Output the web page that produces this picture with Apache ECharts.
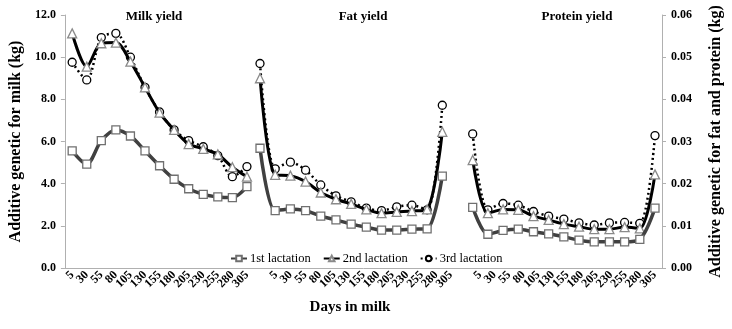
<!DOCTYPE html>
<html>
<head>
<meta charset="utf-8">
<script src="https://cdn.jsdelivr.net/npm/echarts@6/dist/echarts.min.js"></script>
<style>
  html, body { margin: 0; padding: 0; background: #fff; }
  #chart { width: 732px; height: 329px; }
</style>
</head>
<body>
<div id="chart"></div>
<script>
// days in milk (same for each panel)
const days = ['5', '30', '55', '80', '105', '130', '155', '180', '205', '230', '255', '280', '305'];

// milk yield, left axis (kg)
const milk1 = [5.56, 4.93, 6.04, 6.55, 6.26, 5.56, 4.85, 4.21, 3.76, 3.49, 3.37, 3.34, 3.86];
const milk2 = [11.13, 9.55, 10.66, 10.69, 9.79, 8.57, 7.37, 6.55, 5.88, 5.65, 5.39, 4.78, 4.33];
const milk3 = [9.76, 8.92, 10.93, 11.13, 10.0, 8.57, 7.40, 6.55, 6.04, 5.75, 5.33, 4.33, 4.81];

// fat yield, right axis (kg)
const fat1 = [0.0284, 0.0136, 0.0140, 0.0136, 0.0123, 0.0114, 0.0104, 0.0097, 0.0090, 0.0090, 0.0092, 0.0093, 0.0218];
const fat2 = [0.0450, 0.0221, 0.0219, 0.0205, 0.0179, 0.0163, 0.0152, 0.0139, 0.0130, 0.0133, 0.0135, 0.0139, 0.0323];
const fat3 = [0.0485, 0.0235, 0.0251, 0.0232, 0.0197, 0.0171, 0.0157, 0.0142, 0.0136, 0.0145, 0.0149, 0.0138, 0.0386];

// protein yield, right axis (kg)
const prot1 = [0.0144, 0.0080, 0.0089, 0.0092, 0.0086, 0.0081, 0.0074, 0.0066, 0.0062, 0.0062, 0.0062, 0.0068, 0.0142];
const prot2 = [0.0256, 0.0130, 0.0139, 0.0138, 0.0123, 0.0114, 0.0104, 0.0098, 0.0092, 0.0092, 0.0097, 0.0094, 0.0222];
const prot3 = [0.0318, 0.0138, 0.0153, 0.0149, 0.0134, 0.0123, 0.0116, 0.0107, 0.0102, 0.0107, 0.0108, 0.0106, 0.0314];

const panelTitles = ['Milk yield', 'Fat yield', 'Protein yield'];
const lactations = ['1st lactation', '2nd lactation', '3rd lactation'];

// main axis: milk | gap | fat | gap | protein
const mainCats = days.concat([''], days, [''], days);
// second (hidden) axis for fat + protein, points sit on the ticks
const sideCats = days.concat([''], days);
const gap = new Array(days.length + 1).fill('-');

const serif = "'Liberation Serif', 'Times New Roman', serif";
const axisGray = '#b0b0b0';

const styles = [
  { symbol: 'rect', symbolSize: 8, line: { color: '#404040', width: 3.5, type: 'solid' }, border: '#707070' },
  { symbol: 'triangle', symbolSize: 9, line: { color: '#000', width: 3, type: 'solid' }, border: '#8a8a8a' },
  { symbol: 'circle', symbolSize: 8, line: { color: '#000', width: 2.5, type: [2, 3] }, border: '#000' }
];

function makeSeries(k, data, xi, yi) {
  const s = styles[k];
  return {
    name: lactations[k],
    type: 'line',
    xAxisIndex: xi,
    yAxisIndex: yi,
    data: data,
    smooth: 0.3,
    symbol: s.symbol,
    symbolSize: s.symbolSize,
    showAllSymbol: true,
    lineStyle: s.line,
    itemStyle: { color: '#fff', borderColor: s.border, borderWidth: 1.3 },
    z: 2 + (2 - k)
  };
}

const series = [];
[milk1, milk2, milk3].forEach((d, k) => series.push(makeSeries(k, d, 0, 0)));
[fat1, fat2, fat3].forEach((d, k) => series.push(makeSeries(k, d, 1, 2)));
[prot1, prot2, prot3].forEach((d, k) => series.push(makeSeries(k, gap.concat(d), 1, 2)));

const titleStyle = { fontFamily: serif, fontWeight: 'bold', fontSize: 13, color: '#000' };
const titleX = [154, 363, 577];

const chart = echarts.init(document.getElementById('chart'));
chart.setOption({
  animation: false,
  title: panelTitles.map((t, i) => ({
    text: t, left: titleX[i], top: 10, textAlign: 'center', padding: 0, textStyle: titleStyle
  })).concat([{
    text: 'Days in milk', left: 350, top: 300, textAlign: 'center', padding: 0,
    textStyle: { fontFamily: serif, fontWeight: 'bold', fontSize: 15, color: '#000' }
  }]),
  legend: {
    data: lactations,
    left: 230,
    top: 252,
    itemWidth: 16,
    itemHeight: 7,
    itemGap: 12,
    padding: 0,
    textStyle: { fontFamily: serif, fontSize: 12.5, color: '#000', padding: [0, 0, 0, -2] }
  },
  grid: [
    { left: 57, right: 69, top: 15, bottom: 61 },
    { left: 260, right: 77, top: 15, bottom: 61 }
  ],
  xAxis: [
    {
      type: 'category',
      gridIndex: 0,
      data: mainCats,
      boundaryGap: true,
      axisLine: { lineStyle: { color: axisGray } },
      axisTick: { interval: 0, length: 4, lineStyle: { color: axisGray } },
      axisLabel: {
        interval: 0, rotate: 45, margin: 5,
        fontFamily: serif, fontWeight: 'bold', fontSize: 12, color: '#000'
      }
    },
    {
      type: 'category',
      gridIndex: 1,
      data: sideCats,
      boundaryGap: false,
      show: false
    }
  ],
  yAxis: [
    {
      type: 'value',
      gridIndex: 0,
      position: 'left',
      min: 0, max: 12, interval: 2,
      name: 'Additive genetic for milk (kg)',
      nameLocation: 'middle',
      nameRotate: 90,
      nameGap: 34,
      nameTextStyle: { fontFamily: serif, fontWeight: 'bold', fontSize: 16, color: '#000' },
      axisLine: { show: true, lineStyle: { color: axisGray } },
      axisTick: { show: true, length: 4, lineStyle: { color: axisGray } },
      splitLine: { show: false },
      axisLabel: {
        margin: 9,
        formatter: v => v.toFixed(1),
        fontFamily: serif, fontWeight: 'bold', fontSize: 12, color: '#000'
      }
    },
    {
      type: 'value',
      gridIndex: 0,
      position: 'right',
      min: 0, max: 0.06, interval: 0.01,
      name: 'Additive genetic for fat and protein (kg)',
      nameLocation: 'middle',
      nameRotate: 90,
      nameGap: 46,
      nameTextStyle: { fontFamily: serif, fontWeight: 'bold', fontSize: 16, color: '#000' },
      axisLine: { show: true, lineStyle: { color: axisGray } },
      axisTick: { show: true, length: 4, lineStyle: { color: axisGray } },
      splitLine: { show: false },
      axisLabel: {
        margin: 9,
        formatter: v => v.toFixed(2),
        fontFamily: serif, fontWeight: 'bold', fontSize: 12, color: '#000'
      }
    },
    {
      type: 'value',
      gridIndex: 1,
      min: 0, max: 0.06,
      show: false
    }
  ],
  series: series
});
</script>
</body>
</html>
